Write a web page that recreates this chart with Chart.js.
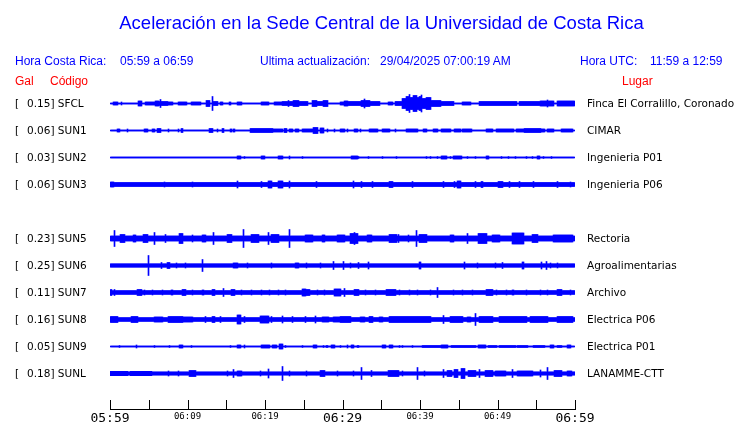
<!DOCTYPE html>
<html>
<head>
<meta charset="utf-8">
<script src="https://cdn.jsdelivr.net/npm/chart.js@4.4.1/dist/chart.umd.min.js"></script>
<style>
    body { margin: 0; background: #fff; overflow: hidden; }
    #wrap { position: absolute; left: 0; top: 0; width: 740px; height: 423px; }
    .txt { position: absolute; white-space: pre; line-height: 1; }
    .azul { color: #0000ff; font-family: "Liberation Sans", Arial, sans-serif; font-size: 12px; }
    .rojo { color: #ff0000; font-family: "Liberation Sans", Arial, sans-serif; font-size: 12px; }
    .titulo { left: 0; width: 763px; text-align: center; font-size: 18.5px; }
    .est { color: #000; font-family: "DejaVu Sans", sans-serif; font-size: 10.5px; }
</style>
</head>
<body>
<div id="wrap"><canvas id="sismo"></canvas></div>
<div class="txt azul titulo" style="top:14px">Aceleración en la Sede Central de la Universidad de Costa Rica</div>
<div class="txt azul" style="left:15px;top:55px">Hora Costa Rica:</div>
<div class="txt azul" style="left:120px;top:55px">05:59 a 06:59</div>
<div class="txt azul" style="left:260px;top:55px">Ultima actualización:</div>
<div class="txt azul" style="left:380px;top:55px">29/04/2025 07:00:19 AM</div>
<div class="txt azul" style="left:580px;top:55px">Hora UTC:</div>
<div class="txt azul" style="left:650px;top:55px">11:59 a 12:59</div>
<div class="txt rojo" style="left:15px;top:75px">Gal</div>
<div class="txt rojo" style="left:50px;top:75px">Código</div>
<div class="txt rojo" style="left:622px;top:75px">Lugar</div>
<div id="etiquetas"></div>
<script>
// eje de tiempo: minutos desde 05:59
const tickLabels = ['05:59', '', '06:09', '', '06:19', '', '06:29', '', '06:39', '', '06:49', '', '06:59'];

const stationCodes = ['SFCL', 'SUN1', 'SUN2', 'SUN3', 'SUN5', 'SUN6', 'SUN7', 'SUN8', 'SUN9', 'SUNL'];
const stationRows = [0, 1, 2, 3, 5, 6, 7, 8, 9, 10];
const peakGal = ['0.15', '0.06', '0.03', '0.06', '0.23', '0.25', '0.11', '0.16', '0.05', '0.18'];
const stationPlaces = ['Finca El Corralillo, Coronado', 'CIMAR', 'Ingenieria P01', 'Ingenieria P06', 'Rectoria',
    'Agroalimentarias', 'Archivo', 'Electrica P06', 'Electrica P01', 'LANAMME-CTT'];

// nivel de ruido de fondo (semi-amplitud) de cada traza
const noiseLevel = [0.5, 0.5, 0.5, 2, 2.5, 1.7, 1.9, 1.9, 0.5, 1.6];

const eventsSFCL = [[0.5, 1.0, 1.5], [1.5, 1.5, 1.5], [3.7, 4.0, 2.5], [4.6, 5.8, 1.5], [5.9, 6.2, 2.5], [6.2, 7.4, 2],
    [6.5, 6.5, 4], [7.6, 8.0, 1.5], [8.8, 9.2, 1.5], [9.4, 9.9, 1.5], [10.5, 11.7, 1.5], [12.5, 12.9, 3], [13.2, 13.2, 7],
    [13.3, 13.9, 2], [14.2, 14.5, 1.5], [15.4, 15.6, 1.5], [16.5, 17.0, 1.5], [19.6, 20.4, 1.5], [21.2, 22.1, 1.5],
    [22.3, 23.6, 2], [23.0, 23.0, 3], [23.7, 24.3, 3], [24.3, 25.5, 2], [26.1, 26.7, 3], [26.8, 27.4, 2], [27.5, 28.0, 3],
    [29.7, 30.3, 1.5], [30.3, 30.7, 2.5], [30.7, 32.5, 2], [32.5, 33.5, 3], [32.9, 32.9, 4.5], [33.5, 34.8, 2],
    [35.9, 36.5, 1.5], [36.8, 37.8, 2], [37.8, 38.3, 5], [38.3, 38.6, 7], [38.6, 38.6, 9], [38.7, 39.2, 6],
    [39.2, 39.5, 8], [39.5, 40.0, 6], [40.0, 40.2, 7], [40.2, 40.2, 8.5], [40.3, 40.8, 5], [40.8, 41.3, 6],
    [41.3, 42.6, 3], [42.6, 44.3, 2], [45.5, 46.5, 1.5], [47.7, 52.5, 2], [52.9, 55.5, 2], [55.5, 57.2, 2.5],
    [56.4, 56.4, 3.5], [57.8, 60, 2.5]];
const eventsSUN1 = [[1.0, 1.2, 1.5], [2.2, 2.2, 1.5], [4.4, 4.9, 1.5], [5.5, 5.8, 1.5], [6.1, 6.5, 2], [7.5, 7.5, 1.5],
    [8.8, 8.8, 1.5], [9.2, 9.3, 2], [12.8, 13.2, 2], [13.9, 13.9, 1.5], [14.5, 14.7, 2], [15.5, 15.7, 1.5], [16.0, 16.0, 1.5],
    [18.1, 21.0, 2], [21.0, 22.2, 1.5], [22.5, 22.8, 2], [23.1, 23.5, 1.5], [23.9, 24.3, 1.5], [24.8, 25.2, 1.5],
    [25.4, 26.2, 1.5], [26.2, 26.8, 3], [27.1, 27.5, 2.5], [28.1, 28.1, 1.5], [29.0, 29.0, 1.5], [29.7, 30.3, 1.5],
    [30.7, 30.7, 1.5], [31.5, 31.9, 1.5], [32.3, 32.3, 1.5], [33.5, 34.5, 1.5], [35.2, 36.1, 1.5], [36.8, 36.8, 1.5],
    [38.3, 39.7, 1.5], [40.4, 40.9, 1.5], [41.7, 42.2, 1.5], [42.8, 43.9, 1.5], [44.5, 45.2, 1.5], [45.5, 46.7, 1.5],
    [48.6, 49.4, 1.5], [49.9, 52.0, 1.5], [52.5, 53.3, 1.5], [53.5, 55.5, 2], [55.5, 56.1, 1.5], [56.5, 57.2, 1.5],
    [58.3, 59.7, 1.5]];
const eventsSUN2 = [[16.5, 16.8, 1.5], [17.3, 17.3, 1], [19.6, 19.9, 1.5], [21.8, 22.2, 1.5], [23.1, 23.2, 1.5],
    [24.8, 24.8, 1], [31.2, 31.9, 1.5], [32.0, 32.0, 1], [33.4, 33.4, 1], [35.1, 35.1, 1], [37.0, 37.0, 1], [40.9, 40.9, 1],
    [41.3, 41.3, 1], [42.3, 42.3, 1], [42.8, 43.4, 1.5], [43.9, 43.9, 1], [44.3, 45.4, 1.5], [46.1, 46.1, 1],
    [47.1, 47.1, 1], [48.6, 48.8, 1.5], [50.5, 50.5, 1], [51.4, 51.4, 1], [52.3, 52.3, 1], [53.8, 53.8, 1], [54.5, 54.5, 1],
    [55.1, 55.4, 1.5], [55.9, 55.9, 1], [57.0, 57.0, 1]];
const eventsSUN3 = [[0, 0.4, 2.5], [7.0, 7.0, 2.5], [10.6, 10.6, 2.5], [16.4, 16.4, 3.5], [19.6, 19.6, 3], [20.4, 20.9, 3.5],
    [21.7, 22.2, 3.5], [23.1, 23.1, 3.5], [26.6, 26.6, 3], [31.4, 31.4, 3.5], [32.5, 32.5, 3], [33.9, 33.9, 3],
    [36.1, 36.4, 3], [39.0, 39.0, 3], [43.0, 43.0, 3], [44.5, 44.5, 3], [44.9, 45.2, 3.5], [47.1, 47.1, 3], [48.0, 48.0, 3],
    [50.1, 50.6, 3], [51.6, 51.6, 3], [52.9, 52.9, 3], [54.6, 54.6, 3], [57.7, 57.7, 3], [59.4, 59.4, 2.5]];
const eventsSUN5 = [[0.6, 0.6, 8], [1.3, 1.9, 4], [3.0, 3.3, 3.5], [4.3, 4.8, 4], [5.7, 5.7, 6], [7.1, 7.1, 4], [9.0, 9.3, 5],
    [10.7, 10.7, 3.5], [12.0, 12.3, 3.5], [13.3, 13.3, 6], [15.1, 15.7, 4], [17.2, 17.2, 9], [18.3, 19.1, 4], [20.4, 20.4, 6],
    [20.9, 21.7, 4], [23.1, 23.1, 9], [25.2, 26.1, 3.5], [27.4, 27.7, 3.5], [29.4, 30.3, 3.5], [31.0, 31.9, 5],
    [31.5, 31.5, 6], [33.2, 33.8, 3.5], [36.1, 37.0, 4], [37.2, 37.2, 4], [38.5, 38.5, 3.5], [39.5, 39.5, 8],
    [40.0, 40.9, 4], [43.9, 44.3, 3.5], [46.1, 46.1, 5], [47.5, 48.6, 5], [49.4, 50.3, 3.5], [52.0, 53.3, 5.5],
    [54.5, 55.1, 4], [57.2, 59.7, 3.5]];
const eventsSUN6 = [[5.0, 5.0, 10], [6.6, 6.6, 3], [7.4, 7.7, 3], [8.6, 8.6, 2.5], [9.7, 9.7, 2.5], [11.9, 11.9, 6],
    [15.9, 16.5, 2.5], [17.8, 17.8, 2.5], [20.8, 20.8, 2.5], [23.9, 24.3, 2.5], [25.4, 25.4, 2.5], [27.1, 27.1, 2.5],
    [28.8, 28.8, 4], [30.1, 30.1, 4], [31.0, 31.0, 2.5], [32.1, 32.1, 3], [33.4, 33.4, 3.5], [40.0, 40.0, 3.5],
    [45.8, 45.8, 3.5], [47.4, 47.4, 2.5], [49.8, 49.8, 2.5], [50.7, 50.7, 3], [53.2, 53.4, 3.5], [55.7, 55.7, 3.5],
    [56.3, 56.3, 4], [56.8, 56.8, 2.5], [57.7, 57.7, 2.5]];
const eventsSUN7 = [[0, 0.2, 3], [0.6, 0.6, 3], [3.5, 4.1, 3], [4.5, 4.5, 2.5], [5.5, 5.5, 2.5], [6.8, 6.8, 2.5],
    [8.0, 8.0, 2.5], [9.3, 9.7, 3], [10.7, 10.7, 2.5], [12.0, 12.0, 2.5], [13.2, 13.5, 3], [14.6, 14.6, 4], [15.7, 16.1, 3],
    [17.0, 17.0, 2.5], [18.3, 18.3, 2.5], [19.6, 19.6, 2.5], [20.6, 20.6, 2.5], [21.7, 21.7, 2.5], [22.6, 22.6, 2.5],
    [24.8, 25.2, 3.5], [25.2, 25.8, 3], [26.8, 26.8, 2.5], [27.7, 27.7, 2.5], [29.0, 29.7, 3.5], [30.2, 30.3, 4],
    [31.6, 32.0, 3], [33.0, 33.0, 2.5], [34.2, 34.2, 2.5], [35.7, 36.8, 3], [37.4, 37.4, 2.5], [38.7, 38.7, 2.5],
    [39.7, 39.7, 2.5], [41.3, 41.3, 2.5], [42.2, 42.3, 5], [44.3, 44.3, 2.5], [45.5, 45.5, 2.5], [46.8, 46.8, 2.5],
    [48.6, 49.4, 3], [49.9, 49.9, 2.5], [51.2, 51.2, 2.5], [52.0, 52.0, 2.5], [53.8, 53.8, 2.5], [55.5, 55.5, 2.5],
    [56.5, 56.5, 2.5], [57.8, 58.3, 3], [59.4, 59.4, 2.5]];
const eventsSUN8 = [[0, 1.0, 3], [2.8, 3.5, 3], [5.8, 6.8, 2.5], [7.5, 9.3, 3], [9.4, 10.6, 2.5], [12.3, 12.3, 3],
    [13.2, 13.5, 3], [14.2, 14.2, 3], [16.5, 16.8, 4.5], [17.4, 17.4, 3], [19.4, 20.4, 3.5], [20.9, 20.9, 3],
    [22.2, 22.2, 3.5], [23.5, 23.5, 3], [25.2, 25.2, 3], [26.5, 26.5, 3.5], [27.4, 28.2, 2.5], [28.9, 30.3, 2.5],
    [29.7, 31.0, 3], [32.3, 32.9, 2.5], [33.5, 33.9, 3], [34.8, 35.2, 2.5], [36.1, 41.3, 3], [43.0, 43.0, 4],
    [43.9, 45.5, 3], [46.1, 46.5, 2.5], [47.1, 47.1, 6], [47.7, 49.4, 3], [50.3, 53.8, 3], [54.2, 56.4, 3], [57.7, 59.7, 3]];
const eventsSUN9 = [[1.2, 1.2, 1], [3.4, 3.4, 1.5], [5.7, 5.7, 1], [7.7, 7.7, 1], [9.0, 9.3, 1.5], [10.5, 10.5, 1],
    [15.5, 15.5, 1], [16.5, 16.8, 1.5], [17.3, 17.3, 1.5], [19.6, 20.6, 1.5], [21.0, 21.5, 1.5], [21.9, 22.2, 2.5],
    [22.6, 22.6, 1], [24.8, 24.8, 1], [26.2, 26.7, 1.5], [27.5, 27.5, 1], [28.0, 28.0, 1], [28.6, 29.0, 1.5],
    [29.7, 29.7, 1], [30.6, 30.7, 1.5], [31.2, 31.4, 1.5], [32.0, 32.0, 1], [35.1, 35.5, 1.5], [36.1, 36.5, 1.5],
    [37.4, 37.4, 1], [37.8, 37.8, 1], [39.0, 39.0, 1], [40.3, 42.8, 1], [42.8, 43.6, 1.5], [44.1, 47.1, 1],
    [47.5, 48.4, 1.5], [48.8, 49.9, 1], [50.3, 52.3, 1], [52.6, 53.9, 1], [54.6, 56.1, 1], [56.8, 57.2, 1.5],
    [57.8, 58.3, 1], [59.0, 59.4, 1.5]];
const eventsSUNL = [[0, 2.2, 2.2], [2.6, 5.4, 2.2], [7.6, 7.6, 2.5], [8.8, 8.8, 2.5], [10.3, 11.0, 3], [15.2, 15.2, 2.5],
    [15.9, 15.9, 4], [16.5, 17.0, 2.5], [19.4, 19.4, 2.5], [20.4, 20.4, 4.5], [22.3, 22.3, 7], [23.1, 23.1, 2.5],
    [25.4, 25.4, 2.5], [27.2, 27.7, 3], [29.4, 29.4, 2.5], [31.4, 31.4, 2.5], [32.5, 32.5, 6], [33.7, 33.7, 3],
    [35.9, 37.2, 3], [37.8, 37.8, 2.5], [39.7, 39.7, 6], [40.6, 40.6, 2.5], [43.0, 43.0, 4], [43.6, 44.1, 3],
    [44.5, 44.9, 4], [45.4, 45.8, 5], [46.2, 47.1, 3], [47.7, 47.7, 4], [48.4, 49.3, 3], [49.7, 51.0, 2.5],
    [51.9, 51.9, 4], [52.6, 54.5, 2.5], [55.5, 55.5, 3.5], [56.5, 56.5, 6], [57.4, 58.3, 3], [59.0, 59.6, 2.5]];

const stationEvents = [eventsSFCL, eventsSUN1, eventsSUN2, eventsSUN3, eventsSUN5, eventsSUN6,
    eventsSUN7, eventsSUN8, eventsSUN9, eventsSUNL];

const nSamples = 465; // una muestra por columna de la traza
const step = 60 / nSamples;

// envolvente de la traza: ruido de fondo, o el evento mas fuerte que cubra la muestra
function buildTrace(row, base, events) {
    const center = 13.5 + 27 * row;
    const out = [];
    for (let k = 0; k < nSamples; k++) {
        const t = (k + 0.5) * step;
        let a = base;
        events.forEach(([t0, t1, amp]) => {
            if (t >= t0 - step / 2 && t <= t1 + step / 2 && amp > a) a = amp;
        });
        out.push({ x: t, y: [center - a, center + a] });
    }
    return out;
}

const datasets = stationCodes.map((code, i) => ({
    label: code,
    data: buildTrace(stationRows[i], noiseLevel[i], stationEvents[i]),
    backgroundColor: '#0000ff',
    borderWidth: 0,
    barPercentage: 1,
    categoryPercentage: 1,
    grouped: false
}));

// etiquetas a los lados de cada traza
const etiquetas = document.getElementById('etiquetas');
stationCodes.forEach((code, i) => {
    const y = 103 + 27 * stationRows[i] - 5.5;
    etiquetas.innerHTML += `
        <div class="txt est" style="left:15px;top:${y}px">[</div>
        <div class="txt est" style="left:27px;top:${y}px">${peakGal[i]}] ${code}</div>
        <div class="txt est" style="left:587px;top:${y}px">${stationPlaces[i]}</div>
    `;
});

// marcas del eje de tiempo hacia arriba
const ticksUp = {
    id: 'ticksUp',
    afterDraw(chart) {
        const sc = chart.scales.x;
        const ctx = chart.ctx;
        const bottom = chart.chartArea.bottom;
        ctx.save();
        ctx.strokeStyle = '#000';
        ctx.lineWidth = 1;
        sc.ticks.forEach(tk => {
            const px = Math.round(sc.getPixelForValue(tk.value)) + 0.5;
            ctx.beginPath();
            ctx.moveTo(px, bottom);
            ctx.lineTo(px, bottom - 9);
            ctx.stroke();
        });
        ctx.restore();
    }
};

new Chart(document.getElementById('sismo'), {
    type: 'bar',
    data: { datasets },
    plugins: [ticksUp],
    options: {
        responsive: true,
        maintainAspectRatio: false,
        animation: false,
        layout: { padding: { left: 110, right: 165, top: 90, bottom: 0 } },
        plugins: { legend: { display: false }, tooltip: { enabled: false } },
        scales: {
            x: {
                type: 'linear',
                min: 0,
                max: 60,
                offset: false,
                afterFit: scale => { scale.height = 14; },
                border: { display: true, color: '#000', width: 1 },
                grid: { display: true, drawOnChartArea: false, drawTicks: false },
                ticks: {
                    stepSize: 5,
                    autoSkip: false,
                    maxRotation: 0,
                    padding: 2,
                    color: '#000',
                    callback: (v, i) => tickLabels[i],
                    font: ctx => ({
                        family: 'DejaVu Sans Mono',
                        size: ctx.tick && ctx.tick.value % 30 === 0 ? 13 : 9
                    })
                }
            },
            y: {
                display: false,
                min: 0,
                max: 319,
                reverse: true
            }
        }
    }
});
</script>
</body>
</html>
